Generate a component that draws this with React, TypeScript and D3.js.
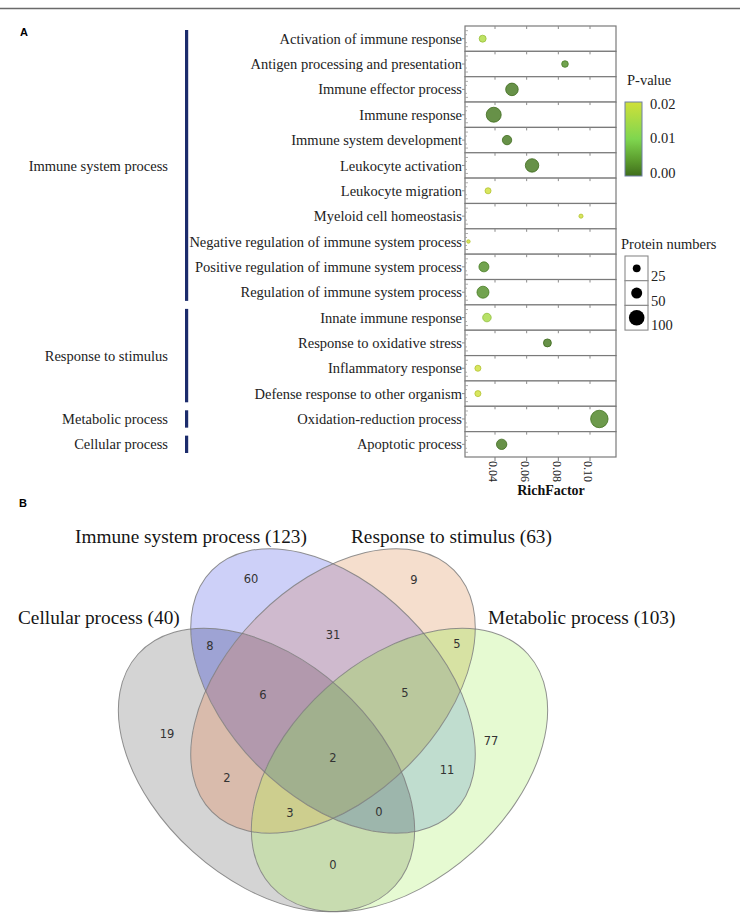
import React from 'react';
import * as d3 from 'd3';

// ---------------- Panel A data ----------------
const categories = [
  'Activation of immune response',
  'Antigen processing and presentation',
  'Immune effector process',
  'Immune response',
  'Immune system development',
  'Leukocyte activation',
  'Leukocyte migration',
  'Myeloid cell homeostasis',
  'Negative regulation of immune system process',
  'Positive regulation of immune system process',
  'Regulation of immune system process',
  'Innate immune response',
  'Response to oxidative stress',
  'Inflammatory response',
  'Defense response to other organism',
  'Oxidation-reduction process',
  'Apoptotic process',
];
const groups = ['Immune system process', 'Response to stimulus', 'Metabolic process', 'Cellular process'];
const groupOf = [0, 0, 0, 0, 0, 0, 0, 0, 0, 0, 0, 1, 1, 1, 1, 2, 3];
const richFactor = [0.0322, 0.0842, 0.0507, 0.0392, 0.0476, 0.0634, 0.0356, 0.0943, 0.0232, 0.033, 0.0324, 0.0349, 0.0731, 0.0292, 0.0292, 0.1059, 0.0442];
const proteinNumbers = [20, 18, 65, 92, 36, 74, 15, 7, 5, 41, 59, 30, 26, 15, 15, 125, 44];
const pValues = [0.016, 0.003, 0.001, 0.001, 0.001, 0.001, 0.02, 0.02, 0.02, 0.003, 0.003, 0.015, 0.001, 0.02, 0.02, 0.002, 0.001];
const xTicks = [0.04, 0.06, 0.08, 0.1];
const pTicks = [0, 0.01, 0.02];
const sizeTicks = [25, 50, 100];

// ---------------- Panel B data ----------------
const vennSets = ['Immune system process', 'Response to stimulus', 'Cellular process', 'Metabolic process'];
const vennKeys = ['I', 'R', 'C', 'M'];
const vennTotals = [123, 63, 40, 103];
const vennRegions = ['I', 'R', 'C', 'M', 'IC', 'IR', 'RM', 'IRC', 'IRM', 'IRCM', 'RC', 'IM', 'RCM', 'ICM', 'CM'];
const vennCounts = [60, 9, 19, 77, 8, 31, 5, 6, 5, 2, 2, 11, 3, 0, 0];

// ---------------- layout / style ----------------
const W = 740;
const H = 915;
const plot = { left: 465, right: 616, top: 26, bottom: 457 };
const serif = '"Liberation Serif", "Times New Roman", serif';
const sans = '"DejaVu Sans", sans-serif';

// ellipse geometry of the 4 sets (order = vennSets)
const vennShapes = [
  { cx: 333, cy: 691, rx: 171, ry: 106, rot: 45 },
  { cx: 333, cy: 691, rx: 171, ry: 106, rot: -45 },
  { cx: 266.5, cy: 770, rx: 173, ry: 110, rot: 42 },
  { cx: 399.5, cy: 770, rx: 173, ry: 110, rot: -42 },
];
// fill colour of every region (order = vennRegions)
const vennRegionColors = [
  '#cdd0f8', '#f5decd', '#d4d4d4', '#e6fad2', '#9ea3d4', '#cfbace', '#d7e2a3', '#b299ad',
  '#bac89d', '#a1b08e', '#d9bbac', '#c0ddcf', '#cdce8e', '#9db6ac', '#c8dcb0',
];
const vennTitlePos = [
  { x: 75, y: 536 },
  { x: 351, y: 536 },
  { x: 18, y: 617 },
  { x: 488, y: 617 },
];
const vennLabelPos = [
  [251, 579], [414, 580], [167, 734], [491, 741], [210, 646], [333, 635], [457, 644],
  [263, 695], [405, 693], [333, 758], [227, 778], [447, 770], [290, 813], [379, 812], [333, 865],
];

function shapeEl(s: (typeof vennShapes)[number], props: any, key?: any) {
  return (
    <ellipse
      key={key}
      cx={s.cx}
      cy={s.cy}
      rx={s.rx}
      ry={s.ry}
      transform={`rotate(${s.rot} ${s.cx} ${s.cy})`}
      {...props}
    />
  );
}

export default function App() {
  const x = d3.scaleLinear().domain([0.02105, 0.11642]).range([plot.left, plot.right]);
  const y = d3.scaleBand<string>().domain(categories).range([plot.top, plot.bottom]).padding(0);
  const bw = y.bandwidth();
  const r = d3.scaleSqrt().domain([0, 100]).range([0, 7.8]);
  const color = d3
    .scaleLinear<string>()
    .domain([0, 0.004, 0.01, 0.02])
    .range(['#3f6e1c', '#5a9a2c', '#7fd64f', '#cfe03a']);
  const legendY = d3.scaleLinear().domain([0, 0.02]).range([173, 103.5]);

  const groupExtents = groups.map((g, gi) => {
    const idx = categories.map((_, i) => i).filter((i) => groupOf[i] === gi);
    const top = y(categories[idx[0]])!;
    const bot = y(categories[idx[idx.length - 1]])! + bw;
    return { name: g, top, bot };
  });

  const gradStops = d3.range(0, 1.0001, 0.1).map((t) => ({ t, c: color(t * 0.02) }));

  const sizeCellTop = 256;
  const sizeCellH = 24.7;

  // build region fills: intersection of included sets, minus excluded sets
  const regionFills = vennRegions.map((reg, k) => {
    const inc = vennKeys.map((kk, i) => (reg.includes(kk) ? i : -1)).filter((i) => i >= 0);
    let node: React.ReactNode = <rect x={0} y={480} width={W} height={H - 480} fill={vennRegionColors[k]} />;
    inc.forEach((i) => {
      node = <g clipPath={`url(#vclip${i})`}>{node}</g>;
    });
    return (
      <g key={reg} mask={`url(#vmask${k})`}>
        {node}
      </g>
    );
  });

  return (
    <svg
      width={W}
      height={H}
      style={{ position: 'absolute', left: 0, top: 0, background: '#fff' }}
      xmlns="http://www.w3.org/2000/svg"
    >
      <defs>
        <linearGradient id="pgrad" x1="0" y1="1" x2="0" y2="0">
          {gradStops.map((s) => (
            <stop key={s.t} offset={s.t} stopColor={s.c} />
          ))}
        </linearGradient>
        {vennShapes.map((s, i) => (
          <clipPath key={i} id={`vclip${i}`} clipPathUnits="userSpaceOnUse">
            {shapeEl(s, {})}
          </clipPath>
        ))}
        {vennRegions.map((reg, k) => (
          <mask key={reg} id={`vmask${k}`} maskUnits="userSpaceOnUse" x={0} y={0} width={W} height={H}>
            <rect x={0} y={0} width={W} height={H} fill="#fff" />
            {vennKeys.map((kk, i) => (reg.includes(kk) ? null : shapeEl(vennShapes[i], { fill: '#000' }, i)))}
          </mask>
        ))}
      </defs>
      <rect x={0} y={0} width={W} height={H} fill="#fff" />
      <line x1={0} x2={W} y1={8.5} y2={8.5} stroke="#6a6a6a" strokeWidth={1.6} />

      {/* Panel letters */}
      <text x={20} y={36} fontFamily='"Liberation Sans", Arial, sans-serif' fontWeight="bold" fontSize={11}>
        A
      </text>
      <text x={19} y={507} fontFamily='"Liberation Sans", Arial, sans-serif' fontWeight="bold" fontSize={11}>
        B
      </text>

      {/* ===== Panel A ===== */}
      {groupExtents.map((g) => (
        <g key={g.name}>
          <rect x={185} y={g.top + 4} width={3.2} height={g.bot - g.top - 8} fill="#1c2c6c" />
          <text
            x={168}
            y={(g.top + g.bot) / 2}
            dy="0.35em"
            textAnchor="end"
            fontFamily={serif}
            fontSize={14.5}
            fill="#222"
          >
            {g.name}
          </text>
        </g>
      ))}

      {categories.map((c, i) => {
        const top = y(c)!;
        const cy = top + bw / 2;
        return (
          <g key={c}>
            <rect
              x={plot.left}
              y={top}
              width={plot.right - plot.left}
              height={bw}
              fill="#fff"
              stroke="#7a7a7a"
              strokeWidth={1.2}
            />
            {xTicks.map((t) => (
              <line key={t} x1={x(t)} x2={x(t)} y1={top} y2={top + 3} stroke="#8a8a8a" strokeWidth={1} />
            ))}
            <line x1={plot.left - 3} x2={plot.left} y1={cy} y2={cy} stroke="#8a8a8a" strokeWidth={1} />
            {[-8, -4, 4, 8].map((o) => (
              <line
                key={o}
                x1={plot.left}
                x2={plot.left + (Math.abs(o) === 8 ? 3 : 2)}
                y1={cy + o}
                y2={cy + o}
                stroke="#9a9a9a"
                strokeWidth={0.8}
              />
            ))}
            <text x={462} y={cy} dy="0.35em" textAnchor="end" fontFamily={serif} fontSize={14.5} fill="#222">
              {c}
            </text>
            <circle
              cx={x(richFactor[i])}
              cy={cy}
              r={r(proteinNumbers[i])}
              fill={color(pValues[i])}
              fillOpacity={0.82}
              stroke={d3.color(color(pValues[i]))!.darker(0.4).formatHex()}
              strokeWidth={0.8}
            />
          </g>
        );
      })}

      {xTicks.map((t) => (
        <g key={t}>
          <line x1={x(t)} x2={x(t)} y1={plot.bottom} y2={plot.bottom + 4} stroke="#7a7a7a" strokeWidth={1} />
          <text
            transform={`translate(${x(t) - 1.5},${plot.bottom + 4})rotate(90)`}
            dy="0.35em"
            textAnchor="start"
            fontFamily={serif}
            fontSize={12}
            fill="#222"
          >
            {d3.format('.2f')(t)}
          </text>
        </g>
      ))}
      <text x={551} y={490} dy="0.35em" textAnchor="middle" fontFamily={serif} fontWeight="bold" fontSize={14} fill="#111">
        RichFactor
      </text>

      <text x={627} y={80} dy="0.35em" fontFamily={serif} fontSize={14.5} fill="#222">
        P-value
      </text>
      <rect x={625} y={102} width={17} height={74} fill="url(#pgrad)" stroke="#6f7fa6" strokeWidth={1} />
      {pTicks.map((t) => (
        <text key={t} x={650} y={legendY(t)} dy="0.35em" fontFamily={serif} fontSize={14.5} fill="#222">
          {d3.format('.2f')(t)}
        </text>
      ))}

      <text x={621} y={244} dy="0.35em" fontFamily={serif} fontSize={14.5} fill="#222">
        Protein numbers
      </text>
      {sizeTicks.map((s, k) => {
        const top = sizeCellTop + k * sizeCellH;
        return (
          <g key={s}>
            <rect x={625} y={top} width={23} height={sizeCellH} fill="#fff" stroke="#8a8a8a" strokeWidth={1.1} />
            <circle cx={636.7} cy={top + sizeCellH / 2} r={r(s)} fill="#000" />
            <text x={651} y={top + sizeCellH / 2 + 7.5} dy="0.35em" fontFamily={serif} fontSize={14.5} fill="#222">
              {s}
            </text>
          </g>
        );
      })}

      {/* ===== Panel B: Venn ===== */}
      {regionFills}
      {vennShapes.map((s, k) =>
        shapeEl(s, { fill: 'none', stroke: '#777', strokeOpacity: 0.8, strokeWidth: 1 }, k)
      )}
      {vennSets.map((name, k) => (
        <text
          key={name}
          x={vennTitlePos[k].x}
          y={vennTitlePos[k].y}
          dy="0.35em"
          fontFamily={serif}
          fontSize={19.3}
          fill="#151515"
        >
          {`${name} (${vennTotals[k]})`}
        </text>
      ))}
      {vennRegions.map((reg, k) => (
        <text
          key={reg}
          x={vennLabelPos[k][0]}
          y={vennLabelPos[k][1]}
          dy="0.35em"
          textAnchor="middle"
          fontFamily={sans}
          fontSize={11.5}
          fill="#333"
        >
          {vennCounts[k]}
        </text>
      ))}
    </svg>
  );
}
